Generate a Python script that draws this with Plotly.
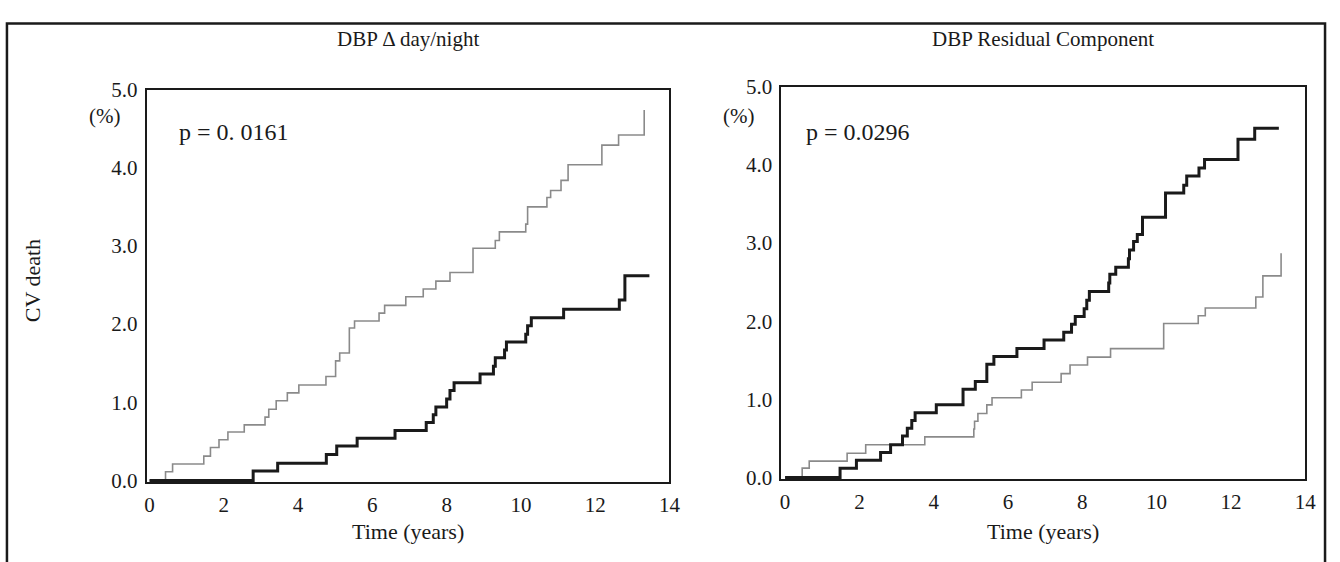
import plotly.graph_objects as go

W, H = 1340, 562

# ---------------- data ----------------
panel_titles = ["DBP \u0394 day/night", "DBP Residual Component"]
p_labels = ["p = 0. 0161", "p = 0.0296"]
x_ticks = [0, 2, 4, 6, 8, 10, 12, 14]
y_ticks = [0, 1, 2, 3, 4, 5]
y_tick_text = ["0.0", "1.0", "2.0", "3.0", "4.0", "5.0"]

# Left panel (DBP delta day/night)
left_gray_t = [0, 0.43, 0.62, 1.46, 1.64, 1.87, 2.11, 2.55, 3.11, 3.21, 3.41, 3.71, 4.02,
               4.75, 5.01, 5.12, 5.38, 5.52, 6.18, 6.33, 6.90, 7.37, 7.71, 8.09, 8.71,
               9.31, 9.42, 10.13, 10.18, 10.70, 10.80, 11.08, 11.27, 12.18, 12.63, 13.32]
left_gray_v = [0, 0.11, 0.21, 0.31, 0.42, 0.52, 0.62, 0.71, 0.81, 0.91, 1.02, 1.12, 1.22,
               1.33, 1.53, 1.63, 1.95, 2.04, 2.14, 2.24, 2.35, 2.45, 2.55, 2.66, 2.97,
               3.07, 3.18, 3.28, 3.50, 3.62, 3.71, 3.84, 4.04, 4.29, 4.42, 4.74]
left_black_t = [0, 2.79, 3.45, 4.76, 5.04, 5.59, 6.61, 7.45, 7.64, 7.71, 8.00, 8.09, 8.20,
                8.90, 9.26, 9.31, 9.56, 9.61, 10.13, 10.18, 10.28, 11.15, 12.65, 12.80, 13.46]
left_black_v = [0, 0.12, 0.22, 0.33, 0.44, 0.54, 0.64, 0.74, 0.84, 0.94, 1.04, 1.15, 1.25,
                1.36, 1.46, 1.57, 1.67, 1.77, 1.87, 1.98, 2.08, 2.19, 2.31, 2.62, 2.62]

# Right panel (DBP residual component)
right_gray_t = [0, 0.46, 0.65, 1.67, 2.17, 3.76, 5.08, 5.10, 5.19, 5.43, 5.57, 6.36, 6.65,
                7.43, 7.67, 8.14, 8.76, 10.19, 11.12, 11.31, 12.67, 12.86, 13.35]
right_gray_v = [0, 0.12, 0.21, 0.31, 0.42, 0.52, 0.62, 0.72, 0.82, 0.93, 1.02, 1.12, 1.22,
                1.33, 1.44, 1.54, 1.65, 1.97, 2.07, 2.17, 2.31, 2.58, 2.87]
right_black_t = [0, 1.48, 1.92, 2.57, 2.84, 3.16, 3.29, 3.41, 3.50, 4.07, 4.79, 5.12, 5.43,
                 5.62, 6.24, 6.97, 7.50, 7.71, 7.81, 8.05, 8.12, 8.19, 8.71, 8.74, 8.90,
                 9.24, 9.27, 9.38, 9.48, 9.62, 10.24, 10.73, 10.81, 11.14, 11.29, 12.19,
                 12.64, 13.29]
right_black_v = [0, 0.12, 0.22, 0.32, 0.42, 0.53, 0.63, 0.73, 0.83, 0.93, 1.13, 1.23, 1.45,
                 1.55, 1.65, 1.76, 1.86, 1.96, 2.06, 2.16, 2.27, 2.38, 2.49, 2.60, 2.69,
                 2.80, 2.91, 3.02, 3.11, 3.33, 3.64, 3.74, 3.86, 3.96, 4.07, 4.33,
                 4.47, 4.47]

# ---------------- layout helpers ----------------
FONT = "Liberation Serif, Times New Roman, serif"
INK = "#1a1a1a"
GRAY = "#8a8a8a"


def px(x):
    return x / W


def py(y):
    return 1 - y / H


# plot boxes in pixels (left, right, top, bottom)
boxes = [(146, 674, 81, 490), (787, 1316, 78, 487)]

fig = go.Figure()

series = [
    (left_gray_t, left_gray_v, left_black_t, left_black_v),
    (right_gray_t, right_gray_v, right_black_t, right_black_v),
]

for i, (gt, gv, bt, bv) in enumerate(series):
    xa = "x" if i == 0 else "x2"
    ya = "y" if i == 0 else "y2"
    fig.add_trace(go.Scatter(x=gt, y=gv, mode="lines", line_shape="hv",
                             line=dict(color=GRAY, width=1.6),
                             xaxis=xa, yaxis=ya, showlegend=False, hoverinfo="skip"))
    fig.add_trace(go.Scatter(x=bt, y=bv, mode="lines", line_shape="hv",
                             line=dict(color=INK, width=3),
                             xaxis=xa, yaxis=ya, showlegend=False, hoverinfo="skip"))

axis_common = dict(showline=True, mirror=True, linecolor=INK, linewidth=2,
                   showgrid=False, zeroline=False, ticks="outside", ticklen=3,
                   tickcolor="rgba(0,0,0,0)",
                   tickfont=dict(family=FONT, size=21, color=INK))

layout_axes = {}
for i, (l, r, t, b) in enumerate(boxes):
    sx = "" if i == 0 else "2"
    x0_year = -0.08 if i == 0 else -0.1
    layout_axes["xaxis" + sx] = dict(axis_common, domain=[px(l), px(r)],
                                      range=[x0_year, 14], tickvals=x_ticks,
                                      anchor="y" + sx)
    layout_axes["yaxis" + sx] = dict(axis_common, domain=[py(b), py(t)],
                                      range=[-0.02, 5], tickvals=y_ticks,
                                      ticktext=y_tick_text, anchor="x" + sx)


def note(x, y, text, size, xanchor="center", angle=0):
    return dict(x=px(x), y=py(y), xref="paper", yref="paper", text=text,
                showarrow=False, xanchor=xanchor, yanchor="middle",
                textangle=angle, font=dict(family=FONT, size=size, color=INK))


annotations = []
title_cx = [410, 1051]
p_x = [177, 810]
pct_x = [103, 744]
for i, (l, r, t, b) in enumerate(boxes):
    annotations.append(note(title_cx[i], 28, panel_titles[i], 21))
    annotations.append(note(p_x[i], 125, p_labels[i], 24, xanchor="left"))
    annotations.append(note(pct_x[i], 108, "(%)", 21))
    annotations.append(note((l + r) / 2, 542, "Time (years)", 22))

annotations.append(note(31, 280, "CV death", 22, angle=-90))

shapes = [dict(type="rect", xref="paper", yref="paper",
               x0=px(5), x1=px(1336), y0=py(580), y1=py(12),
               line=dict(color=INK, width=2.5), fillcolor="rgba(0,0,0,0)")]

fig.update_layout(width=W, height=H, autosize=False,
                  margin=dict(l=0, r=0, t=0, b=0),
                  paper_bgcolor="white", plot_bgcolor="white",
                  annotations=annotations, shapes=shapes, **layout_axes)

fig.write_html("out.html", config={"displayModeBar": False},
               post_script="document.body.style.margin='0';"
                           "document.body.style.overflow='hidden';")
